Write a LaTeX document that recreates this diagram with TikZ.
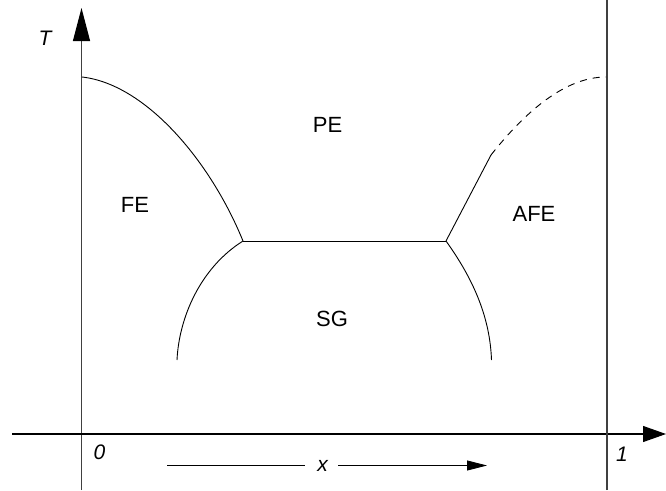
\documentclass[tikz,border=0pt]{standalone}
\usepackage{fontspec}
\setmainfont{Liberation Sans}
\usetikzlibrary{arrows.meta}
\begin{document}
\begin{tikzpicture}[x=1pt,y=-1pt,
  axis/.style={line width=1.1pt,black!75},
  haxis/.style={line width=1.1pt,black},
  curve/.style={line width=0.9pt,black},
  region/.style={font=\fontsize{22}{22}\selectfont,inner sep=0pt},
  axlabel/.style={font=\fontsize{21}{21}\selectfont\itshape,inner sep=0pt}]
\useasboundingbox (0,0) rectangle (666,490);
% axis coordinates
\coordinate (Tbot) at (81.5,490);
\coordinate (Ttop) at (81.5,8);
\coordinate (Xl) at (12,434);
\coordinate (Xr) at (666,434);
\coordinate (Rtop) at (607,0);
\coordinate (Rbot) at (607,490);
% phase boundary points
\coordinate (A) at (82,77);
\coordinate (B) at (243,241);
\coordinate (C) at (446,241);
\coordinate (D) at (491,155);
\coordinate (E) at (606,77);
\coordinate (SL) at (177,360);
\coordinate (SR) at (491.5,360);
% axes
\draw[axis,-{Triangle[length=33pt,width=17pt,color=black]}] (Tbot) -- (Ttop);
\draw[haxis,-{Triangle[length=23pt,width=16pt]}] (Xl) -- (Xr);
\draw[axis] (Rbot) -- (Rtop);
% boundaries
\draw[curve] (A) .. controls (145,84) and (210,160) .. (B);
\draw[curve] (B) -- (C);
\draw[curve] (B) .. controls (200,268) and (179,318) .. (SL);
\draw[curve] (C) .. controls (474,280) and (490,318) .. (SR);
\draw[curve] (C) -- (D);
\draw[curve,dashed,dash pattern=on 7pt off 6pt] (D) .. controls (525,112) and (565,77) .. (E);
% labels
\node[region] (pe) at (327.5,125) {PE};
\node[region] (fe) at (135,205) {FE};
\node[region] (afe) at (534,213.5) {AFE};
\node[region] (sg) at (332,318.5) {SG};
\node[axlabel] (T) at (45,38.5) {T};
\node[axlabel] (zero) at (99.5,452) {0};
\node[axlabel] (one) at (622,454) {1};
\node[axlabel] (xl) at (322.5,466) {x};
\coordinate (xa1) at (167,465.5);
\coordinate (xa2) at (305,465.5);
\coordinate (xa3) at (338,465.5);
\coordinate (xa4) at (487,465.5);
\draw[line width=0.8pt] (xa1) -- (xa2);
\draw[line width=0.8pt,-{Triangle[length=20pt,width=10pt]}] (xa3) -- (xa4);
\end{tikzpicture}
\end{document}
